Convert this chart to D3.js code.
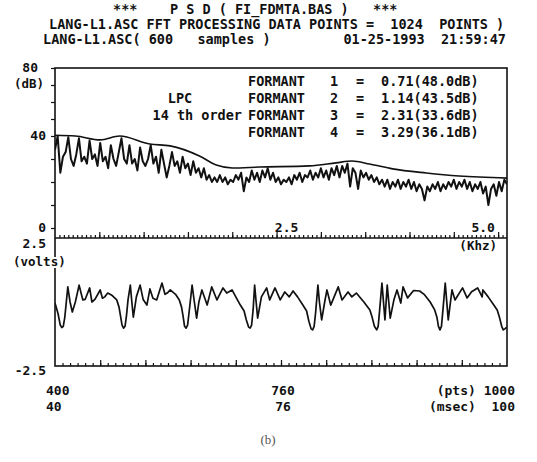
<!DOCTYPE html>
<meta charset="utf-8">
<script src="https://d3js.org/d3.v7.min.js"></script>
<style>
  body { margin: 0; background: #fff; }
  text { font-family: "DejaVu Sans Mono", monospace; font-weight: bold; fill: #111; white-space: pre; }
</style>
<div id="psd"></div>
<script>

  // header lines of the printout
  var titleLine1 = "***    P S D ( FI_FDMTA.BAS )   ***";
  var titleLine2 = "LANG-L1.ASC FFT PROCESSING DATA POINTS =  1024  POINTS )";
  var titleLine3a = "LANG-L1.ASC( 600   samples )";
  var titleLine3b = "01-25-1993  21:59:47";

  // formant table
  var formantNo  = [1, 2, 3, 4];
  var formantKhz = ["0.71", "1.14", "2.31", "3.29"];
  var formantDb  = ["48.0", "43.5", "33.6", "36.1"];

  // FFT spectrum, dB, one value every 0.03 kHz from 0 to 5.10 kHz
  var specStep = 0.03;
  var specDb = [
    34, 40, 24, 31, 33, 39.5, 30, 27, 32, 39, 29, 31, 28, 38, 30, 32, 27, 37, 29, 31,
    26, 36, 30, 27, 33, 39, 30, 28, 36, 28, 30, 25, 35, 29, 27, 30, 36, 28, 31, 24,
    34, 28, 22, 27, 33, 27, 29, 24, 31, 26, 28, 23, 29, 24, 26, 22, 26, 21, 23, 20,
    22, 20, 23, 20, 22, 19, 21, 20, 23, 21, 24, 16, 22, 20, 25, 21, 24, 20, 25, 22,
    26, 21, 24, 20, 22, 19, 21, 20, 22, 19, 23, 21, 24, 20, 23, 22, 25, 21, 24, 22,
    26, 22, 25, 21, 26, 23, 27, 22, 27, 24, 28, 18, 26, 24, 17, 25, 22, 24, 21, 23,
    20, 22, 19, 21, 18, 21, 17, 20, 18, 21, 17, 20, 18, 21, 17, 20, 16, 19, 17, 12,
    18, 16, 19, 17, 20, 16, 19, 17, 20, 18, 21, 17, 20, 18, 21, 17, 20, 16, 19, 17,
    20, 15, 18, 10, 17, 19, 14, 20, 16, 21, 19
  ];

  // LPC (14th order) envelope: [kHz, dB]
  var lpc = [[0, 40.4], [0.23, 40.0], [0.51, 38.3], [0.73, 40.0], [1.07, 36.5], [1.30, 35.7],
    [1.63, 31.3], [1.82, 27.4], [2.00, 26.1], [2.31, 26.5], [2.87, 27.0], [3.17, 28.3],
    [3.35, 29.1], [3.55, 27.8], [3.81, 25.7], [4.19, 23.9], [4.56, 22.6], [5.10, 21.7]];

  // time waveform: [sample index (pts), volts]
  var wave = [
    [400, -0.04], [404, -0.45], [407, -0.9], [409, -1.0], [411, -0.95], [413, -0.6], [417, 0.59], [420, 0.0],
    [423, -0.39], [427, 0.0], [432, 0.66], [435, 0.3], [437, 0.08], [440, 0.1], [446, 0.55], [449, 0.0],
    [453, 0.1], [460, 0.47], [463, 0.15], [466, 0.2], [470, 0.35], [476, 0.25], [482, 0.08], [485, -0.2],
    [487, -0.55], [489, -0.9], [491, -1.02], [493, -0.95], [495, -0.5], [497, 0.1], [500, 0.66], [502, 0.0],
    [504, -0.59], [508, 0.2], [513, 0.66], [517, 0.1], [522, -0.12], [526, 0.51], [530, 0.15], [535, 0.08],
    [542, 0.74], [546, 0.3], [549, 0.35], [553, 0.47], [560, 0.3], [565, 0.08], [568, -0.2], [570, -0.55],
    [572, -0.95], [574, -1.02], [576, -0.9], [578, -0.4], [582, 0.66], [585, 0.0], [588, -0.63], [591, 0.0],
    [595, 0.47], [602, -0.12], [608, 0.59], [615, 0.08], [623, 0.55], [628, 0.35], [635, 0.47], [640, 0.2],
    [646, -0.12], [651, -0.35], [654, -0.7], [657, -0.98], [659, -1.02], [661, -0.9], [663, -0.3], [665, 0.66],
    [667, 0.0], [669, -0.63], [674, 0.2], [681, 0.55], [685, 0.08], [692, 0.55], [699, 0.08], [705, 0.39],
    [711, 0.2], [716, 0.43], [722, 0.2], [729, -0.12], [734, -0.35], [737, -0.75], [740, -1.05], [742, -1.09],
    [744, -0.95], [746, -0.4], [749, 0.66], [751, 0.0], [754, -0.7], [758, 0.0], [761, 0.47], [766, -0.12],
    [776, 0.59], [781, 0.08], [789, 0.39], [794, 0.2], [800, 0.35], [810, 0.0], [818, -0.31], [821, -0.6],
    [824, -0.95], [827, -1.09], [829, -0.95], [831, -0.3], [834, 0.74], [838, -0.7], [841, 0.66], [845, -0.63],
    [850, 0.1], [854, 0.47], [859, -0.04], [862, 0.59], [868, 0.16], [876, 0.45], [884, 0.43], [890, 0.3],
    [898, 0.0], [904, -0.31], [907, -0.6], [909, -0.95], [911, -1.09], [913, -0.95], [915, -0.3], [918, 0.74],
    [922, -0.7], [927, 0.47], [931, 0.08], [941, 0.55], [947, 0.16], [953, 0.4], [961, 0.55], [967, 0.2],
    [968, 0.47], [975, 0.2], [982, -0.1], [987, -0.31], [990, -0.6], [993, -0.95], [995, -1.09], [997, -1.05],
    [1000, -0.98]
  ];

  // axis labels
  var freqTicks = [2.5, 5.0];
  var freqTickText = ["2.5", "5.0"];
  var dbTicks = [0, 40, 80];
  var dbTickText = ["0", "40", "80"];
  var timeTicks = [400, 700, 1000];
  var ptsText = ["400", "760", "(pts) 1000"];
  var msecText = ["40", "76", "(msec)  100"];

  var W = 537, H = 462;
  var svg = d3.select("#psd").append("svg")
    .attr("width", W).attr("height", H);

  // panel geometry
  var left = 55, right = 507, top1 = 68, mid = 238, bot = 366;

  var xf = d3.scaleLinear().domain([0, 5.1]).range([left, right]);
  var yDb = d3.scaleLinear().domain([0, 40, 80]).range([228, 136, 68]);
  var xt = d3.scaleLinear().domain([400, 1000]).range([left, right]);
  var yV = d3.scaleLinear().domain([-2.5, 2.5]).range([bot, mid]);

  // title
  var tg = svg.append("g").style("font-size", "13.5px");
  tg.append("text").attr("x", 113).attr("y", 14).text(titleLine1);
  tg.append("text").attr("x", 49).attr("y", 29).text(titleLine2);
  tg.append("text").attr("x", 43).attr("y", 44).text(titleLine3a);
  tg.append("text").attr("x", 506).attr("y", 44).attr("text-anchor", "end").text(titleLine3b);

  svg.append("clipPath").attr("id", "c1").append("rect")
    .attr("x", left).attr("y", top1).attr("width", right - left).attr("height", mid - top1);
  svg.append("clipPath").attr("id", "c2").append("rect")
    .attr("x", left).attr("y", mid).attr("width", right - left).attr("height", bot - mid);

  // spectrum
  var specLine = d3.line()
    .x(function (d, i) { return xf(i * specStep); })
    .y(function (d) { return yDb(d); });
  svg.append("path").datum(specDb)
    .attr("clip-path", "url(#c1)")
    .attr("d", specLine)
    .attr("fill", "none").attr("stroke", "#111").attr("stroke-width", 2)
    .attr("stroke-linejoin", "round");

  // LPC envelope
  var lpcLine = d3.line().curve(d3.curveMonotoneX)
    .x(function (d) { return xf(d[0]); })
    .y(function (d) { return yDb(d[1]); });
  svg.append("path").datum(lpc)
    .attr("d", lpcLine)
    .attr("fill", "none").attr("stroke", "#111").attr("stroke-width", 1.6);

  // waveform
  var waveLine = d3.line()
    .x(function (d) { return xt(d[0]); })
    .y(function (d) { return yV(d[1]); });
  svg.append("path").datum(wave)
    .attr("clip-path", "url(#c2)")
    .attr("d", waveLine)
    .attr("fill", "none").attr("stroke", "#111").attr("stroke-width", 1.7)
    .attr("stroke-linejoin", "round");

  // ticks (no labels, drawn inside on the x axes)
  function noLabels(g) { g.select(".domain").remove(); g.selectAll("text").remove(); g.selectAll("line").attr("stroke", "#111").attr("stroke-width", 1.2); }
  svg.append("g").attr("transform", "translate(0," + mid + ")")
    .call(d3.axisTop(xf).tickValues(d3.range(0.05, 5.1, 0.05)).tickSize(3)).call(noLabels);
  svg.append("g").attr("transform", "translate(0," + mid + ")")
    .call(d3.axisTop(xf).tickValues(d3.range(0.5, 5.1, 0.5)).tickSize(6)).call(noLabels);
  svg.append("g").attr("transform", "translate(0," + bot + ")")
    .call(d3.axisTop(xt).tickValues(d3.range(410, 1000, 10)).tickSize(3)).call(noLabels);
  svg.append("g").attr("transform", "translate(0," + bot + ")")
    .call(d3.axisTop(xt).tickValues(d3.range(460, 1000, 60)).tickSize(6)).call(noLabels);
  svg.append("g").attr("transform", "translate(" + left + ",0)")
    .call(d3.axisLeft(yDb).tickValues(d3.range(0, 81, 10)).tickSize(4)).call(noLabels);

  // frame
  var frame = svg.append("g").attr("fill", "none").attr("stroke", "#111").attr("stroke-width", 1.6);
  frame.append("rect").attr("x", left).attr("y", top1).attr("width", right - left).attr("height", bot - top1);
  frame.append("line").attr("x1", left).attr("x2", right).attr("y1", mid).attr("y2", mid);

  // frequency tick labels
  svg.selectAll(".fl").data(freqTicks).enter().append("text")
    .attr("x", function (d, i) { return xf(d) + (i === 0 ? 10 : -15); })
    .attr("y", 232)
    .attr("text-anchor", "middle")
    .style("font-size", "13px")
    .text(function (d, i) { return freqTickText[i]; });
  svg.append("text").attr("x", 497).attr("y", 250).attr("text-anchor", "end")
    .style("font-size", "12.5px").text("(Khz)");

  // dB labels
  svg.selectAll(".dl").data(dbTicks).enter().append("text")
    .attr("x", function (d) { return d === 80 ? 38 : 46; })
    .attr("y", function (d) { return yDb(d) + 4; })
    .attr("text-anchor", "end")
    .style("font-size", "13px")
    .text(function (d, i) { return dbTickText[i]; });
  svg.append("text").attr("x", 14).attr("y", 88).style("font-size", "12.5px").text("(dB)");

  // volts labels
  svg.append("text").attr("x", 46).attr("y", yV(2.5) + 10).attr("text-anchor", "end")
    .style("font-size", "13px").text("2.5");
  svg.append("text").attr("x", 46).attr("y", yV(-2.5) + 9).attr("text-anchor", "end")
    .style("font-size", "13px").text("-2.5");
  svg.append("text").attr("x", 13).attr("y", 266).style("font-size", "12.5px")
    .attr("stroke", "#fff").attr("stroke-width", 4).attr("paint-order", "stroke")
    .text("(volts)");

  // time labels
  [ptsText, msecText].forEach(function (labels, row) {
    svg.selectAll(".tl" + row).data(timeTicks).enter().append("text")
      .attr("x", function (d, i) { return i === 0 ? xt(d) - 9 : i === 2 ? xt(d) + 8 : xt(d) + 2; })
      .attr("y", 395 + row * 16)
      .attr("text-anchor", function (d, i) { return ["start", "middle", "end"][i]; })
      .style("font-size", "13px")
      .text(function (d, i) { return labels[i]; });
  });

  // formant table and LPC note
  var ft = svg.append("g").style("font-size", "13.5px");
  formantNo.forEach(function (n, i) {
    var y = 86 + i * 17;
    ft.append("text").attr("x", 248).attr("y", y).text("FORMANT");
    ft.append("text").attr("x", 334).attr("y", y).attr("text-anchor", "middle").text(n);
    ft.append("text").attr("x", 360).attr("y", y).attr("text-anchor", "middle").text("=");
    ft.append("text").attr("x", 381).attr("y", y).text(formantKhz[i] + "(" + formantDb[i] + "dB)");
  });
  ft.append("text").attr("x", 180).attr("y", 103).attr("text-anchor", "middle").text("LPC");
  ft.append("text").attr("x", 242).attr("y", 120).attr("text-anchor", "end").text("14 th order");

  // caption
  svg.append("text").attr("x", 268).attr("y", 444).attr("text-anchor", "middle")
    .style("font-family", "'Liberation Serif', serif").style("font-weight", "normal")
    .style("font-size", "13px").style("fill", "#555").text("(b)");

</script>
